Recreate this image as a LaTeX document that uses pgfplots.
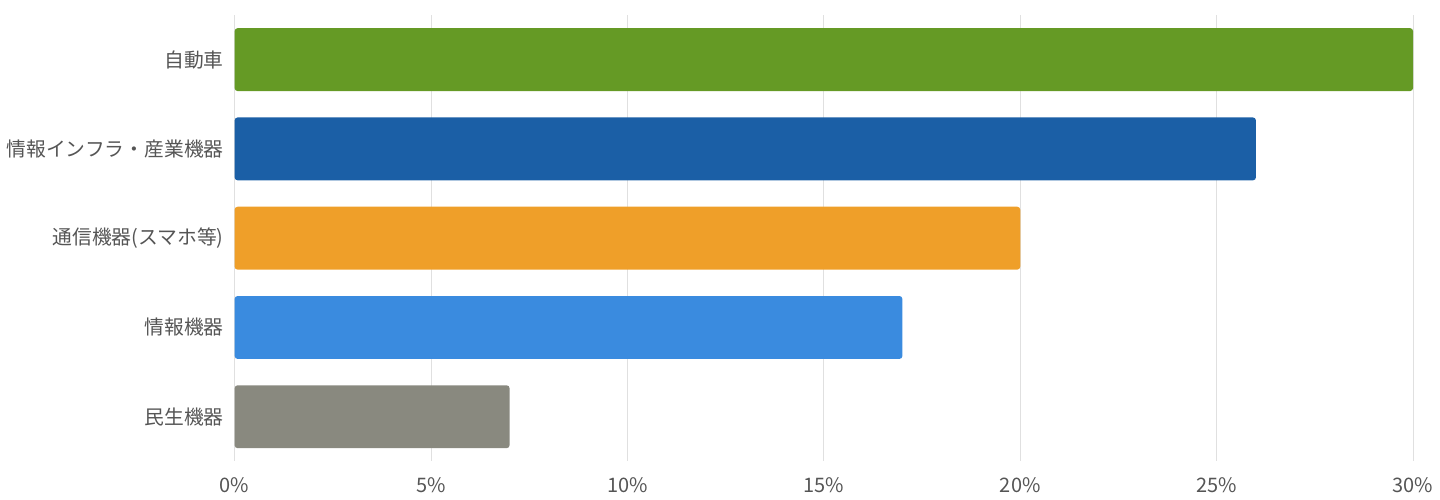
\documentclass[border=0pt]{standalone}
\usepackage{pgfplots}
\pgfplotsset{compat=1.18}
\usepackage{fontspec}
\setmainfont{Noto Sans CJK JP}
\definecolor{cgreen}{HTML}{659A25}
\definecolor{cblue}{HTML}{1B5FA6}
\definecolor{corange}{HTML}{EF9F29}
\definecolor{clblue}{HTML}{3A8BDF}
\definecolor{cgray}{HTML}{89897F}
\definecolor{tickc}{HTML}{555555}
\definecolor{gridc}{HTML}{E0E0E0}
\begin{document}
\begin{tikzpicture}
\begin{axis}[
  scale only axis,
  width=590pt, height=223.5pt,
  xbar, bar width=31.5pt, bar shift=0pt,
  xmin=0, xmax=30,
  ymin=-0.5, ymax=4.5, y dir=reverse,
  ytick={0,1,2,3,4},
  yticklabels={自動車,情報インフラ・産業機器,通信機器(スマホ等),情報機器,民生機器},
  xtick={0,5,10,15,20,25,30},
  xticklabels={0\%,5\%,10\%,15\%,20\%,25\%,30\%},
  axis line style={draw=none},
  major tick length=0pt,
  xmajorgrids, grid style={gridc, line width=0.5pt},
  y tick label style={font=\fontsize{9.9pt}{11pt}\selectfont, text=tickc},
  x tick label style={font=\fontsize{10pt}{12pt}\selectfont, text=tickc},
  yticklabel style={xshift=-2pt},
  xticklabel style={yshift=-4.5pt},
  clip=false,
]
\addplot[fill=cgreen, draw=none, rounded corners=1.5pt] coordinates {(30,0)};
\addplot[fill=cblue, draw=none, rounded corners=1.5pt] coordinates {(26,1)};
\addplot[fill=corange, draw=none, rounded corners=1.5pt] coordinates {(20,2)};
\addplot[fill=clblue, draw=none, rounded corners=1.5pt] coordinates {(17,3)};
\addplot[fill=cgray, draw=none, rounded corners=1.5pt] coordinates {(7,4)};
\end{axis}
\useasboundingbox (current axis.south west) ++(-117pt,-19pt) rectangle ([xshift=13pt,yshift=7.5pt]current axis.north east);
\end{tikzpicture}
\end{document}
